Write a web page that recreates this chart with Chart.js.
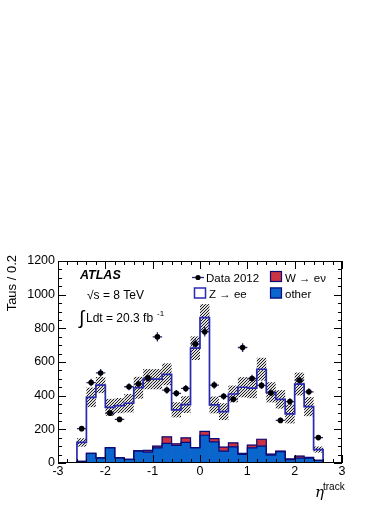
<!DOCTYPE html>
<html>
<head>
<meta charset="utf-8">
<script src="https://cdn.jsdelivr.net/npm/chart.js@4"></script>
<style>
  html, body { margin: 0; padding: 0; background: #fff; }
  #chart { display: block; }
</style>
</head>
<body>
<canvas id="chart" width="390" height="505"></canvas>
<script>
// eta bins of width 0.2, values at bin centres
const etaCenters = [-2.9, -2.7, -2.5, -2.3, -2.1, -1.9, -1.7, -1.5, -1.3, -1.1, -0.9, -0.7, -0.5, -0.3, -0.1,
                    0.1, 0.3, 0.5, 0.7, 0.9, 1.1, 1.3, 1.5, 1.7, 1.9, 2.1, 2.3, 2.5, 2.7, 2.9]

// data 2012 and its stat error
const dataCounts = [null, null, 204, 478, 535, 296, 259, 453, 469, 504, 749, 433, 414, 443, 708,
                    780, 463, 396, 380, 686, 502, 461, 416, 253, 365, 492, 423, 151, null, null]
const dataErr = [null, null, 14, 22, 23, 17, 16, 21, 22, 22, 27, 21, 20, 21, 27,
                 28, 22, 20, 19, 26, 22, 21, 20, 16, 19, 22, 21, 12, null, null]

// stacked MC: other, W -> e nu, Z -> ee
const other = [0, 0, 10, 57, 31, 90, 31, 22, 72, 65, 90, 116, 104, 122, 90,
               165, 125, 71, 96, 51, 90, 100, 47, 67, 20, 29, 29, 16, 0, 0]
const wenu = [0, 0, 0, 0, 0, 2, 0, 0, 0, 10, 10, 39, 10, 27, 2,
              23, 20, 23, 23, 6, 16, 41, 6, 4, 4, 12, 4, 0, 0, 0]
const zee = [0, 0, 112, 333, 432, 239, 310, 333, 375, 423, 398, 372, 202, 198, 590,
             676, 200, 211, 291, 393, 339, 416, 367, 307, 268, 428, 302, 64, 0, 0]
// total MC uncertainty (half width of hatched band)
const mcErr = [0, 0, 25, 58, 48, 50, 45, 55, 65, 60, 60, 65, 45, 50, 70,
               80, 50, 50, 50, 60, 60, 68, 60, 55, 57, 68, 57, 18, 0, 0]

const xTicks = [-3, -2, -1, 0, 1, 2, 3]

const FONT = '"Liberation Sans", Arial, Helvetica, sans-serif'
const NAVY = '#0b0b78'
const ZBLUE = '#2a2ab0'

function pts(vals) {
    return etaCenters.map((c, i) => ({x: c, y: vals[i]}))
}

// hatch pattern for the MC uncertainty band
const hatchCanvas = document.createElement('canvas')
hatchCanvas.width = 3
hatchCanvas.height = 3
const hctx = hatchCanvas.getContext('2d')
hctx.fillStyle = 'rgba(120,120,120,0.25)'
hctx.fillRect(0, 0, 3, 3)
hctx.fillStyle = '#1e1e1e'
hctx.fillRect(0, 2, 1, 1)
hctx.fillRect(1, 1, 1, 1)
hctx.fillRect(2, 0, 1, 1)

const decor = {
    id: 'decor',
    afterDatasetDraw(chart, args) {
        if (args.index !== 4) return
        // hatched band after the filled stack
        const {ctx, chartArea: a, scales: {x, y}} = chart
        ctx.save()
        ctx.beginPath()
        ctx.rect(a.left, a.top, a.right - a.left, a.bottom - a.top)
        ctx.clip()
        ctx.fillStyle = ctx.createPattern(hatchCanvas, 'repeat')
        etaCenters.forEach((c, i) => {
            if (!mcErr[i]) return
            const tot = other[i] + wenu[i] + zee[i]
            const x0 = x.getPixelForValue(c - 0.1)
            const x1 = x.getPixelForValue(c + 0.1)
            const y0 = y.getPixelForValue(tot + mcErr[i])
            const y1 = y.getPixelForValue(tot - mcErr[i])
            ctx.fillRect(x0, y0, x1 - x0, y1 - y0)
        })
        ctx.restore()
    },
    beforeDatasetDraw(chart, args) {
        if (args.index !== 0) return
        // error bars of data points
        const {ctx, scales: {x, y}} = chart
        ctx.save()
        ctx.strokeStyle = '#26267e'
        ctx.lineWidth = 1.3
        ctx.beginPath()
        etaCenters.forEach((c, i) => {
            if (dataCounts[i] == null) return
            const py = y.getPixelForValue(dataCounts[i])
            const px = x.getPixelForValue(c)
            ctx.moveTo(x.getPixelForValue(c - 0.1), py)
            ctx.lineTo(x.getPixelForValue(c + 0.1), py)
            ctx.moveTo(px, y.getPixelForValue(dataCounts[i] + dataErr[i]))
            ctx.lineTo(px, y.getPixelForValue(dataCounts[i] - dataErr[i]))
        })
        ctx.stroke()
        ctx.restore()
    },
    afterDraw(chart) {
        const {ctx, chartArea: a, scales: {x, y}} = chart
        ctx.save()
        // frame
        ctx.strokeStyle = '#000'
        ctx.lineWidth = 1
        ctx.strokeRect(a.left + 0.5, a.top + 0.5, a.right - a.left - 1, a.bottom - a.top - 1)
        ctx.beginPath()
        for (let k = -15; k <= 15; k++) {
            const px = Math.round(x.getPixelForValue(k * 0.2)) + 0.5
            const len = k % 5 === 0 ? 8 : 4
            ctx.moveTo(px, a.bottom)
            ctx.lineTo(px, a.bottom - len)
            ctx.moveTo(px, a.top)
            ctx.lineTo(px, a.top + len)
        }
        for (let v = 0; v <= 1200; v += 50) {
            const py = Math.round(y.getPixelForValue(v)) + 0.5
            const len = v % 200 === 0 ? 8 : 4
            ctx.moveTo(a.left, py)
            ctx.lineTo(a.left + len, py)
            ctx.moveTo(a.right, py)
            ctx.lineTo(a.right - len, py)
        }
        ctx.stroke()

        ctx.fillStyle = '#000'
        ctx.textBaseline = 'alphabetic'
        // axis titles
        ctx.save()
        ctx.translate(16, 255)
        ctx.rotate(-Math.PI / 2)
        ctx.textAlign = 'right'
        ctx.font = '13px ' + FONT
        ctx.fillText('Taus / 0.2', 0, 0)
        ctx.restore()
        ctx.textAlign = 'left'
        ctx.font = 'italic 15px "DejaVu Serif", serif'
        ctx.fillText('\u03b7', 315, 497)
        ctx.font = '10px ' + FONT
        ctx.fillText('track', 323, 490)

        // labels
        ctx.font = 'italic bold 12.5px ' + FONT
        ctx.fillText('ATLAS', 80, 278.5)
        ctx.font = '12px ' + FONT
        ctx.fillText('\u221As = 8 TeV', 87, 299)
        ctx.font = '19px ' + FONT
        ctx.fillText('\u222B', 79, 324)
        ctx.font = '12px ' + FONT
        ctx.fillText('Ldt = 20.3 fb', 86, 322)
        ctx.font = '8px ' + FONT
        ctx.fillText('-1', 157, 316)

        // legend
        ctx.font = '11.5px ' + FONT
        ctx.strokeStyle = '#26267e'
        ctx.lineWidth = 1.3
        ctx.beginPath()
        ctx.moveTo(192, 277.5)
        ctx.lineTo(204, 277.5)
        ctx.stroke()
        ctx.beginPath()
        ctx.arc(198, 277.5, 2.6, 0, Math.PI * 2)
        ctx.fill()
        ctx.fillText('Data 2012', 206, 281.5)

        ctx.lineWidth = 1.2
        ctx.fillStyle = '#cc3340'
        ctx.fillRect(270, 271, 12, 11)
        ctx.strokeStyle = NAVY
        ctx.strokeRect(270.5, 271.5, 11, 10)
        ctx.fillStyle = '#000'
        ctx.fillText('W \u2192 e\u03bd', 285, 281.5)

        ctx.fillStyle = '#fff'
        ctx.fillRect(194, 287.5, 12, 11)
        ctx.strokeStyle = ZBLUE
        ctx.lineWidth = 1.5
        ctx.strokeRect(194.5, 288, 11, 10)
        ctx.fillStyle = '#000'
        ctx.fillText('Z \u2192 ee', 209, 298)

        ctx.fillStyle = '#0a66cc'
        ctx.fillRect(270, 287.5, 12, 11)
        ctx.strokeStyle = NAVY
        ctx.lineWidth = 1.2
        ctx.strokeRect(270.5, 288, 11, 10)
        ctx.fillStyle = '#000'
        ctx.fillText('other', 285, 298)
        ctx.restore()
    }
}

const ctx = document.getElementById('chart').getContext('2d')
const myChart = new Chart(ctx, {
    data: {
        datasets: [{
            type: 'scatter',
            label: 'Data 2012',
            data: pts(dataCounts),
            stack: 'data',
            order: 0,
            pointRadius: 2.8,
            pointBackgroundColor: '#000',
            pointBorderWidth: 0
        }, {
            type: 'line',
            label: 'other outline',
            data: pts(other),
            stack: 'outline',
            order: 1,
            stepped: 'middle',
            borderColor: NAVY,
            borderWidth: 1.2,
            pointRadius: 0,
            fill: false
        }, {
            type: 'line',
            label: 'W outline',
            data: pts(wenu),
            stack: 'outline',
            order: 1,
            stepped: 'middle',
            borderColor: NAVY,
            borderWidth: 1.2,
            pointRadius: 0,
            fill: false
        }, {
            type: 'line',
            label: 'Z -> ee',
            data: pts(zee),
            stack: 'outline',
            order: 1,
            stepped: 'middle',
            borderColor: ZBLUE,
            borderWidth: 1.7,
            pointRadius: 0,
            fill: false
        }, {
            type: 'bar',
            label: 'other',
            data: pts(other),
            order: 2,
            backgroundColor: '#0a66cc',
            borderWidth: 0,
            barPercentage: 1,
            categoryPercentage: 1
        }, {
            type: 'bar',
            label: 'W -> e nu',
            data: pts(wenu),
            order: 2,
            backgroundColor: '#cc3340',
            borderWidth: 0,
            barPercentage: 1,
            categoryPercentage: 1
        }]
    },
    options: {
        responsive: false,
        animation: false,
        layout: {padding: {top: 261, right: 48, left: 0, bottom: 0}},
        plugins: {legend: {display: false}, tooltip: {enabled: false}},
        scales: {
            x: {
                type: 'linear',
                stacked: true,
                offset: false,
                min: -3,
                max: 3,
                afterBuildTicks: (s) => { s.ticks = xTicks.map(v => ({value: v})) },
                afterFit: (s) => { s.height = 42 },
                grid: {display: false, drawTicks: false, offset: false},
                border: {display: false},
                ticks: {padding: 1, color: '#000', font: {family: FONT, size: 12.5}, maxRotation: 0}
            },
            y: {
                stacked: true,
                min: 0,
                max: 1200,
                afterFit: (s) => { s.width = 58 },
                grid: {display: false, drawTicks: false},
                border: {display: false},
                ticks: {stepSize: 200, padding: 3, color: '#000', font: {family: FONT, size: 12.5},
                        callback: (v) => String(v)}
            }
        }
    },
    plugins: [decor]
})
</script>
</body>
</html>
